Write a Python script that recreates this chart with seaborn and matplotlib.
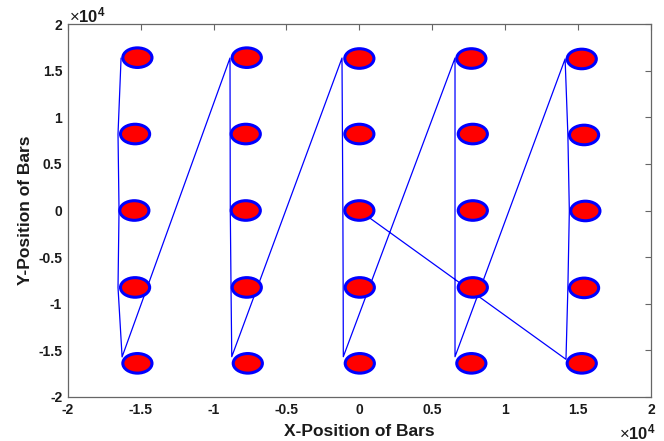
import numpy as np
import pandas as pd
import seaborn as sns
import matplotlib
matplotlib.use("Agg")
import matplotlib.pyplot as plt
from matplotlib.patches import Ellipse

sns.set_theme(style="white")
plt.rcParams['font.family'] = ['Liberation Sans', 'DejaVu Sans']
plt.rcParams['mathtext.fontset'] = 'custom'
plt.rcParams['mathtext.rm'] = 'Liberation Sans'
plt.rcParams['mathtext.bf'] = 'Liberation Sans:bold'

# Bar centres, column by column (top row first)
bar_x = [-15220, -15380, -15430, -15380, -15220,
         -7720, -7790, -7790, -7720, -7650,
         0, 0, 0, 30, 30,
         7680, 7780, 7780, 7780, 7680,
         15250, 15410, 15500, 15410, 15250]
bar_y = [16390, 8200, 0, -8250, -16390,
         16390, 8200, 0, -8250, -16390,
         16300, 8200, 0, -8250, -16390,
         16300, 8200, 0, -8250, -16390,
         16250, 8100, -50, -8300, -16390]
bar_radius = 1000

# Route visiting the bars, ending back at the origin
path_x = [-16340, -16550, -16480, -16550, -16270,
          -8870, -8860, -8850, -8800, -8750,
          -1190, -1160, -1130, -1110, -1100,
          6560, 6560, 6560, 6560, 6560,
          14110, 14300, 14400, 14300, 14170,
          0]
path_y = [16350, 8200, 0, -8250, -15700,
          16350, 8200, 0, -8250, -15680,
          16350, 8200, 0, -8250, -15680,
          16350, 8200, 0, -8250, -15680,
          16250, 8100, -50, -8300, -15960,
          0]

xtick_vals = [-20000, -15000, -10000, -5000, 0, 5000, 10000, 15000, 20000]
xtick_labels = ["-2", "-1.5", "-1", "-0.5", "0", "0.5", "1", "1.5", "2"]
ytick_vals = [-20000, -15000, -10000, -5000, 0, 5000, 10000, 15000, 20000]
ytick_labels = ["-2", "-1.5", "-1", "-0.5", "0", "0.5", "1", "1.5", "2"]

fig = plt.figure(figsize=(6.64, 4.41), dpi=100)
ax = fig.add_axes([67.7 / 664, 1 - 397 / 441, (651 - 67.7) / 664, (397 - 24) / 441])

route = pd.DataFrame({"x": path_x, "y": path_y})
sns.lineplot(data=route, x="x", y="y", sort=False, estimator=None,
             color=(0, 0, 1), lw=0.9, ax=ax, zorder=2)

for cx, cy in zip(bar_x, bar_y):
    ax.add_patch(Ellipse((cx, cy), 2 * bar_radius, 2.1 * bar_radius,
                         facecolor=(1, 0, 0), edgecolor=(0, 0, 1),
                         lw=2.2, zorder=3))

ax.set_xlim(-20000, 20000)
ax.set_ylim(-20000, 20000)
ax.set_xticks(xtick_vals)
ax.set_xticklabels(xtick_labels, fontweight="bold", fontsize=10, color="0.1")
ax.set_yticks(ytick_vals)
ax.set_yticklabels(ytick_labels, fontweight="bold", fontsize=10, color="0.1")
ax.tick_params(direction="in", length=4, width=0.8, colors="0.4",
               labelcolor="0.1", top=True, right=True, pad=4)
for s in ax.spines.values():
    s.set_visible(True)
    s.set_color("0.4")
    s.set_linewidth(0.9)

ax.set_xlabel("X-Position of Bars", fontweight="bold", fontsize=12.5, color="0.1")
ax.set_ylabel("Y-Position of Bars", fontweight="bold", fontsize=12.5, color="0.1")
ax.xaxis.set_label_coords(0.5, -0.072)
ax.yaxis.set_label_coords(-0.06, 0.5)

fig.text(69 / 664, 1 - 15 / 441, r"$\times\mathbf{10^{4}}$", fontsize=12,
         ha="left", va="center", color="0.1")
fig.text(656 / 664, 1 - 432 / 441, r"$\times\mathbf{10^{4}}$", fontsize=12,
         ha="right", va="center", color="0.1")

fig.savefig("out.png", dpi=100, facecolor="white")
